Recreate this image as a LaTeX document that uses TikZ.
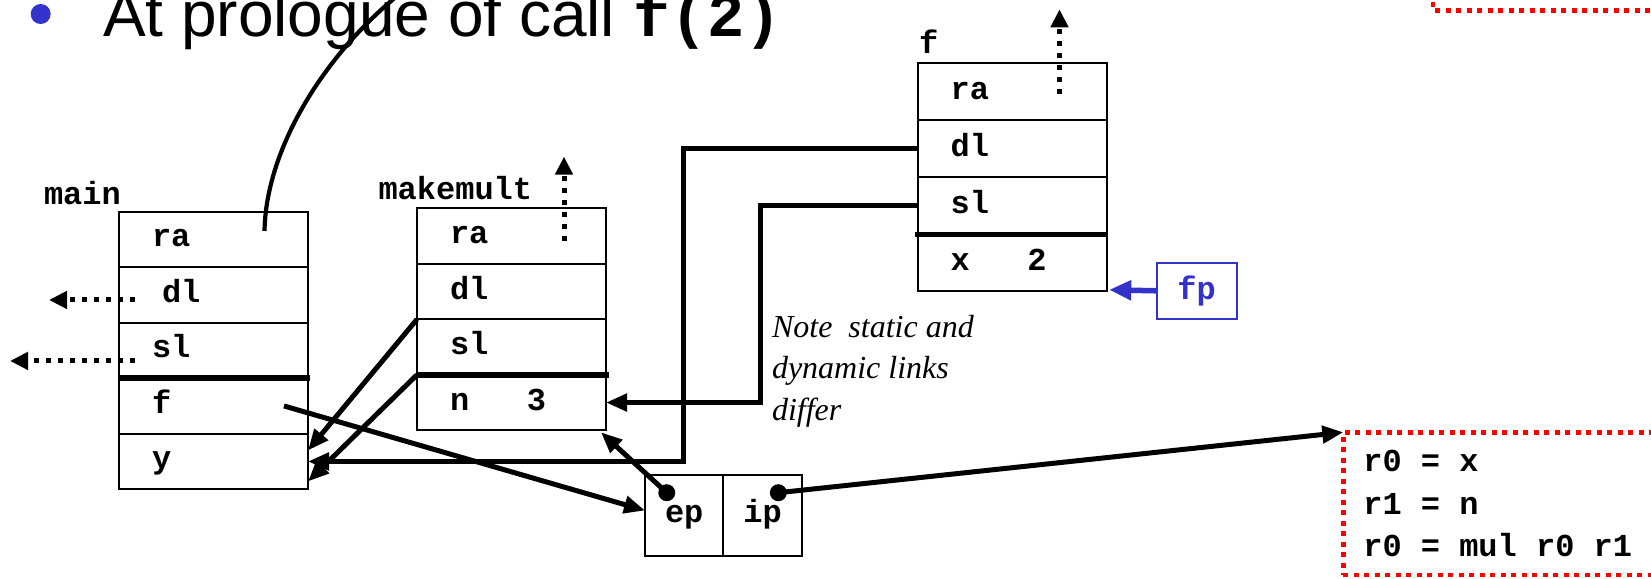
\documentclass[tikz,border=0pt]{standalone}
\usepackage{fontspec}
\setmainfont{Liberation Sans}
\newfontfamily\codefont{Liberation Mono}
\newfontfamily\notefont{Liberation Serif}
\usetikzlibrary{arrows.meta,positioning}
\definecolor{StackInk}{gray}{0}
\definecolor{StackBlue}{RGB}{51,51,204}
\definecolor{StackRed}{RGB}{255,0,0}
% mono text, one full character cell per space
\newcommand\codesize{\codefont\bfseries\fontsize{32}{42.5}\selectfont}
\newcommand\codesp{\hspace{19.2pt}}
\tikzset{
    stack/diagram/.style={
        x=1pt, y=-1pt,
        line join=miter,
        every node/.style={inner sep=0pt, outer sep=0pt}
    },
    stack/code font/.style={font=\codesize},
    stack/slot/.style={
        stack/code font, draw=StackInk, line width=1.8pt,
        minimum height=55.5pt, text width=123pt, inner xsep=33pt,
        align=left, text height=15pt, text depth=0pt
    },
    stack/label/.style={stack/code font, anchor=base west},
    stack/divider/.style={draw=StackInk, line width=5.5pt},
    stack/link/.style={
        draw=StackInk, line width=5pt,
        -{Triangle[length=21pt, width=17pt]}
    },
    stack/dots/.style={
        draw=StackInk, line width=5pt, line cap=butt,
        dash pattern=on 5pt off 7pt,
        -{Triangle[length=18pt, width=17pt]}
    },
    stack/curve/.style={draw=StackInk, line width=4.2pt},
    stack/cell/.style={
        stack/code font, draw=StackInk, line width=1.8pt,
        minimum width=78.3pt, minimum height=81pt,
        text height=14.4pt, text depth=0pt
    },
    stack/pin/.style={circle, fill=StackInk, minimum size=17pt},
    stack/reg/.style={
        stack/code font, draw=StackBlue, text=StackBlue, line width=1.8pt,
        minimum width=80pt, minimum height=56pt
    },
    stack/pointer/.style={
        draw=StackBlue, line width=5.5pt,
        -{Triangle[length=22pt, width=19pt]}
    },
    stack/red line/.style={
        draw=StackRed, line width=4.5pt, line cap=butt,
        dash pattern=on 5pt off 5.5pt
    },
    stack/code/.style={
        stack/code font, stack/red line,
        minimum width=420pt, minimum height=142.7pt,
        text width=380pt, inner xsep=20pt, align=left
    },
    stack/note/.style={
        font=\notefont\itshape\fontsize{32}{41.5}\selectfont, align=left
    }
}

\begin{document}
\begin{tikzpicture}[stack/diagram]
    \useasboundingbox (0,0) rectangle (1651,578);
    \clip (0,0) rectangle (1651,578);
    % title line
    \node[circle, fill=StackBlue, minimum size=20pt] (bullet) at (40.7,14) {};
    \node[anchor=base west, font=\fontsize{64}{70}\selectfont] (title) at (103,36.7)
        {At prologue of call {\codefont\bfseries\fontsize{62}{70}\selectfont f(2)}};
    % activation records
    \foreach \slot/\txt [count=\i] in {ra/ra, dl/{\hspace{10pt}dl}, sl/sl, f/f, y/y}
        \node[stack/slot] (main-\slot) at (213.5,{211.7+55.5*(\i-0.5)}) {\txt};
    \foreach \slot/\txt [count=\i] in {ra/ra, dl/dl, sl/sl, n/{n\codesp\codesp\codesp 3}}
        \node[stack/slot] (mm-\slot) at (511.5,{208.3+55.5*(\i-0.5)}) {\txt};
    \foreach \slot/\txt [count=\i] in {ra/ra, dl/dl, sl/sl, x/{x\codesp\codesp\codesp 2}}
        \node[stack/slot, minimum height=57pt] (f-\slot) at (1012.2,{63.3+57*(\i-0.5)}) {\txt};
    \node[stack/label] (main-name) at (44,204) {main};
    \node[stack/label] (mm-name) at (378.5,199) {makemult};
    \node[stack/label] (f-name) at (919,53) {f};
    \draw[stack/divider] ([xshift=-1pt]main-sl.south west) -- ([xshift=2pt]main-sl.south east);
    \draw[stack/divider] (mm-sl.south west) -- ([xshift=2.5pt]mm-sl.south east);
    \draw[stack/divider] ([xshift=-3pt]f-sl.south west) -- (f-sl.south east);
    % closure
    \node[stack/cell] (ep) at (684.2,515.5) {ep};
    \node[stack/cell, right=0pt of ep] (ip) {ip};
    \node[stack/pin] (ep-dot) at ([shift={(21.7,17.7)}]ep.north west) {};
    \node[stack/pin] (ip-dot) at ([shift={(55,17.7)}]ip.north west) {};
    % frame pointer
    \node[stack/reg] (fp) at (1196.6,290.8) {fp};
    \draw[stack/pointer] (fp.west) -- ([shift={(2.5,-1.5)}]f-x.south east);
    % code of f
    \node[stack/code, anchor=north west] (code) at (1343.3,432.3)
        {r0\codesp=\codesp x\\r1\codesp=\codesp n\\r0\codesp=\codesp mul\codesp r0\codesp r1};
    \draw[stack/red line] (1433,-40) rectangle (1720,10.5);
    \node[stack/note, anchor=west] (note) at (772,371.2)
        {Note\ \ static and\\dynamic links\\differ};
    % links
    \draw[stack/link] (f-dl.west) -- ++(-234.2,0) |- (main-y.east);
    \draw[stack/link] (f-sl.west) -- ++(-157.7,0) |- (mm-n.east);
    \draw[stack/link] (mm-dl.south west) -- ([yshift=11pt]main-y.east);
    \draw[stack/link] (mm-sl.south west) -- ([yshift=-20pt]main-y.east);
    \draw[stack/link] ([shift={(-24,0)}]main-f.east) -- ([shift={(0,-5)}]ep.west);
    \draw[stack/link] (ep-dot.center) -- ([shift={(-5,2)}]mm-n.south east);
    \draw[stack/link] (ip-dot.center) -- (code.north west);
    \draw[stack/dots] ([shift={(16,5)}]main-dl.west) -- ++(-86,0);
    \draw[stack/dots] ([shift={(16,10.5)}]main-sl.west) -- ++(-125,0);
    \draw[stack/dots] ([shift={(-42,4.5)}]mm-ra.east) -- ++(0,-84);
    \draw[stack/dots] ([shift={(-47.2,2.5)}]f-ra.east) -- ++(0,-85);
    \draw[stack/curve] ([shift={(-43.5,-8.5)}]main-ra.east)
        .. controls (266,150) and (322,58) .. (397,-4);
\end{tikzpicture}
\end{document}
